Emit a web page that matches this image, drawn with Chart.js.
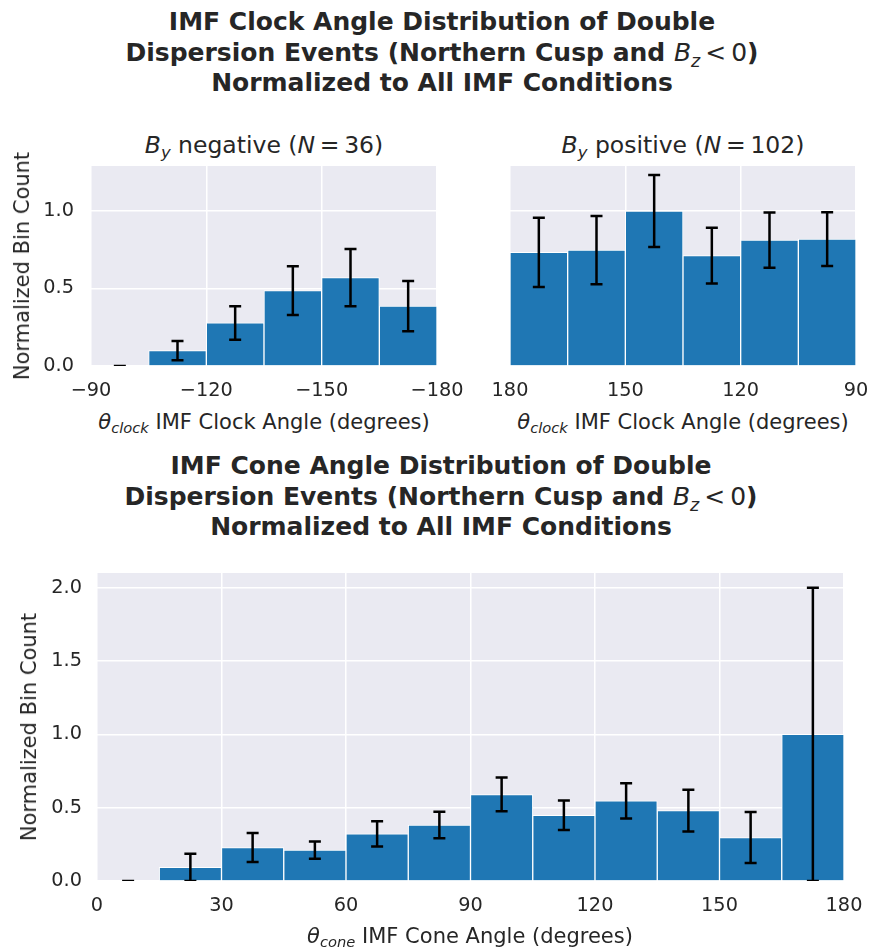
<!DOCTYPE html>
<html lang="en">
<head>
<meta charset="utf-8">
<title>IMF Clock and Cone Angle Distributions</title>
<script src="https://cdn.jsdelivr.net/npm/chart.js"></script>
<style>
  body { margin: 0; background: #fff; font-family: "DejaVu Sans", sans-serif; color: #262626; }
  #page { position: relative; width: 871px; height: 947px; overflow: hidden; }
  .box { position: absolute; }
  .txt { position: absolute; transform: translate(-50%, -50%); white-space: nowrap; }
  .sup { font-weight: bold; font-size: 25px; line-height: 30.5px; text-align: center; }
  .sup .m { font-weight: normal; }
  .ttl { font-size: 23.5px; }
  .lbl { font-size: 21px; }
  .ylbl { transform: translate(-50%, -50%) rotate(-90deg); }
  .eq { margin: 0 0.2em; }
  sub { font-size: 0.7em; vertical-align: -0.3em; line-height: 0; }
</style>
</head>
<body>
<div id="page">
  <div class="txt sup" style="left:442px; top:53px">IMF Clock Angle Distribution of Double<br>Dispersion Events (Northern Cusp and <span class="m"><i>B</i><sub><i>z</i></sub>&thinsp;&lt;&thinsp;0</span>)<br>Normalized to All IMF Conditions</div>

  <div class="txt ttl" style="left:264px; top:145px"><i>B</i><sub><i>y</i></sub> negative (<i>N</i><span class="eq">=</span>36)</div>
  <div class="txt ttl" style="left:683px; top:145px"><i>B</i><sub><i>y</i></sub> positive (<i>N</i><span class="eq">=</span>102)</div>

  <div class="box" style="left:0; top:156px; width:480px; height:250px"><canvas id="byNegChart"></canvas></div>
  <div class="box" style="left:480px; top:156px; width:391px; height:250px"><canvas id="byPosChart"></canvas></div>

  <div class="txt lbl ylbl" style="left:22px; top:266px">Normalized Bin Count</div>
  <div class="txt lbl" style="left:264px; top:422px"><i>θ</i><sub><i>clock</i></sub> IMF Clock Angle (degrees)</div>
  <div class="txt lbl" style="left:683px; top:422px"><i>θ</i><sub><i>clock</i></sub> IMF Clock Angle (degrees)</div>

  <div class="txt sup" style="left:441px; top:497px">IMF Cone Angle Distribution of Double<br>Dispersion Events (Northern Cusp and <span class="m"><i>B</i><sub><i>z</i></sub>&thinsp;&lt;&thinsp;0</span>)<br>Normalized to All IMF Conditions</div>

  <div class="box" style="left:0; top:560px; width:871px; height:387px"><canvas id="coneChart"></canvas></div>

  <div class="txt lbl ylbl" style="left:29px; top:727px">Normalized Bin Count</div>
  <div class="txt lbl" style="left:470px; top:936px"><i>θ</i><sub><i>cone</i></sub> IMF Cone Angle (degrees)</div>
</div>

<script>
  const BAR = "#1f77b4";
  const TICK_FONT = { family: "DejaVu Sans", size: 19.3 };

  // By negative clock angle bins (15 deg)
  const negCenters = [-97.5, -112.5, -127.5, -142.5, -157.5, -172.5];
  const negValues = [0, 0.099, 0.278, 0.486, 0.570, 0.386];
  const negErrors = [0, 0.062, 0.108, 0.157, 0.185, 0.162];
  const negTicks = [-90, -120, -150, -180];

  // By positive clock angle bins
  const posCenters = [172.5, 157.5, 142.5, 127.5, 112.5, 97.5];
  const posValues = [0.733, 0.747, 1.0, 0.712, 0.812, 0.818];
  const posErrors = [0.224, 0.220, 0.232, 0.180, 0.178, 0.173];
  const posTicks = [180, 150, 120, 90];

  const clockYTicks = [0, 0.5, 1.0];

  // Cone angle bins
  const coneCenters = [7.5, 22.5, 37.5, 52.5, 67.5, 82.5, 97.5, 112.5, 127.5, 142.5, 157.5, 172.5];
  const coneValues = [0, 0.093, 0.228, 0.211, 0.322, 0.382, 0.590, 0.448, 0.546, 0.480, 0.296, 1.0];
  const coneErrors = [0, 0.093, 0.099, 0.059, 0.086, 0.090, 0.115, 0.101, 0.120, 0.142, 0.174, 1.0];
  const coneTicks = [0, 30, 60, 90, 120, 150, 180];
  const coneYTicks = [0, 0.5, 1.0, 1.5, 2.0];

  const panelBg = {
    id: "panelBg",
    beforeDraw(chart) {
      const { ctx, chartArea: a } = chart;
      ctx.save();
      ctx.fillStyle = "#eaeaf2";
      ctx.fillRect(a.left, a.top, a.right - a.left, a.bottom - a.top);
      ctx.restore();
    }
  };

  const errorBars = {
    id: "errorBars",
    afterDatasetsDraw(chart, args, opts) {
      const { ctx, chartArea: a, scales: { x, y } } = chart;
      ctx.save();
      ctx.beginPath();
      ctx.rect(a.left, a.top, a.right - a.left, a.bottom - a.top);
      ctx.clip();
      ctx.strokeStyle = "#000";
      ctx.lineWidth = 2.5;
      opts.centers.forEach((c, i) => {
        const v = opts.values[i], e = opts.errors[i];
        const px = x.getPixelForValue(c);
        const lo = y.getPixelForValue(v - e), hi = y.getPixelForValue(v + e);
        ctx.beginPath();
        ctx.moveTo(px, lo); ctx.lineTo(px, hi);
        ctx.moveTo(px - 6, lo); ctx.lineTo(px + 6, lo);
        ctx.moveTo(px - 6, hi); ctx.lineTo(px + 6, hi);
        ctx.stroke();
      });
      ctx.restore();
    }
  };

  const fmtAngle = v => v < 0 ? "\u2212" + Math.abs(v) : String(v);

  // keep the plot area where the layout padding puts it
  const noScalePadding = s => {
    s.paddingTop = 0; s.paddingBottom = 0; s.paddingLeft = 0; s.paddingRight = 0;
  };

  function histogram(id, p) {
    new Chart(document.getElementById(id), {
      type: "bar",
      data: {
        datasets: [{
          data: p.centers.map((c, i) => ({ x: c, y: p.values[i] })),
          backgroundColor: BAR,
          borderColor: "#ffffff",
          borderWidth: 1,
          barPercentage: 1,
          categoryPercentage: 1
        }]
      },
      options: {
        responsive: true,
        maintainAspectRatio: false,
        animation: false,
        layout: { padding: p.padding },
        plugins: {
          legend: { display: false },
          tooltip: { enabled: false },
          errorBars: { centers: p.centers, values: p.values, errors: p.errors }
        },
        scales: {
          x: {
            type: "linear",
            min: p.xMin, max: p.xMax,
            reverse: p.reverse,
            offset: false,
            border: { display: false },
            grid: { color: "#ffffff", lineWidth: 1.5, drawTicks: false, offset: false },
            ticks: { font: TICK_FONT, color: "#262626", padding: 13, maxRotation: 0, autoSkip: false, callback: fmtAngle },
            afterBuildTicks: s => { s.ticks = p.xTicks.map(v => ({ value: v })); },
            afterFit: s => { s.height = p.xAxisHeight; noScalePadding(s); }
          },
          y: {
            min: 0, max: p.yMax,
            border: { display: false },
            grid: { color: "#ffffff", lineWidth: 1.5, drawTicks: false },
            ticks: { display: p.yLabels, font: TICK_FONT, color: "#262626", padding: p.yPad, callback: v => v.toFixed(1) },
            afterBuildTicks: s => { s.ticks = p.yTicks.map(v => ({ value: v })); },
            afterFit: s => { s.width = p.yAxisWidth; noScalePadding(s); }
          }
        }
      },
      plugins: [panelBg, errorBars]
    });
  }

  histogram("byNegChart", {
    centers: negCenters, values: negValues, errors: negErrors,
    xMin: -180, xMax: -90, reverse: true, xTicks: negTicks,
    yMax: 1.29, yTicks: clockYTicks, yLabels: true, yPad: 17,
    yAxisWidth: 91, xAxisHeight: 40,
    padding: { top: 10, right: 43, left: 0, bottom: 0 }
  });

  histogram("byPosChart", {
    centers: posCenters, values: posValues, errors: posErrors,
    xMin: 90, xMax: 180, reverse: true, xTicks: posTicks,
    yMax: 1.29, yTicks: clockYTicks, yLabels: false, yPad: 0,
    yAxisWidth: 0, xAxisHeight: 40,
    padding: { top: 10, right: 15, left: 30, bottom: 0 }
  });

  histogram("coneChart", {
    centers: coneCenters, values: coneValues, errors: coneErrors,
    xMin: 0, xMax: 180, reverse: false, xTicks: coneTicks,
    yMax: 2.1, yTicks: coneYTicks, yLabels: true, yPad: 15,
    yAxisWidth: 97, xAxisHeight: 66,
    padding: { top: 13, right: 27, left: 0, bottom: 0 }
  });
</script>
</body>
</html>
